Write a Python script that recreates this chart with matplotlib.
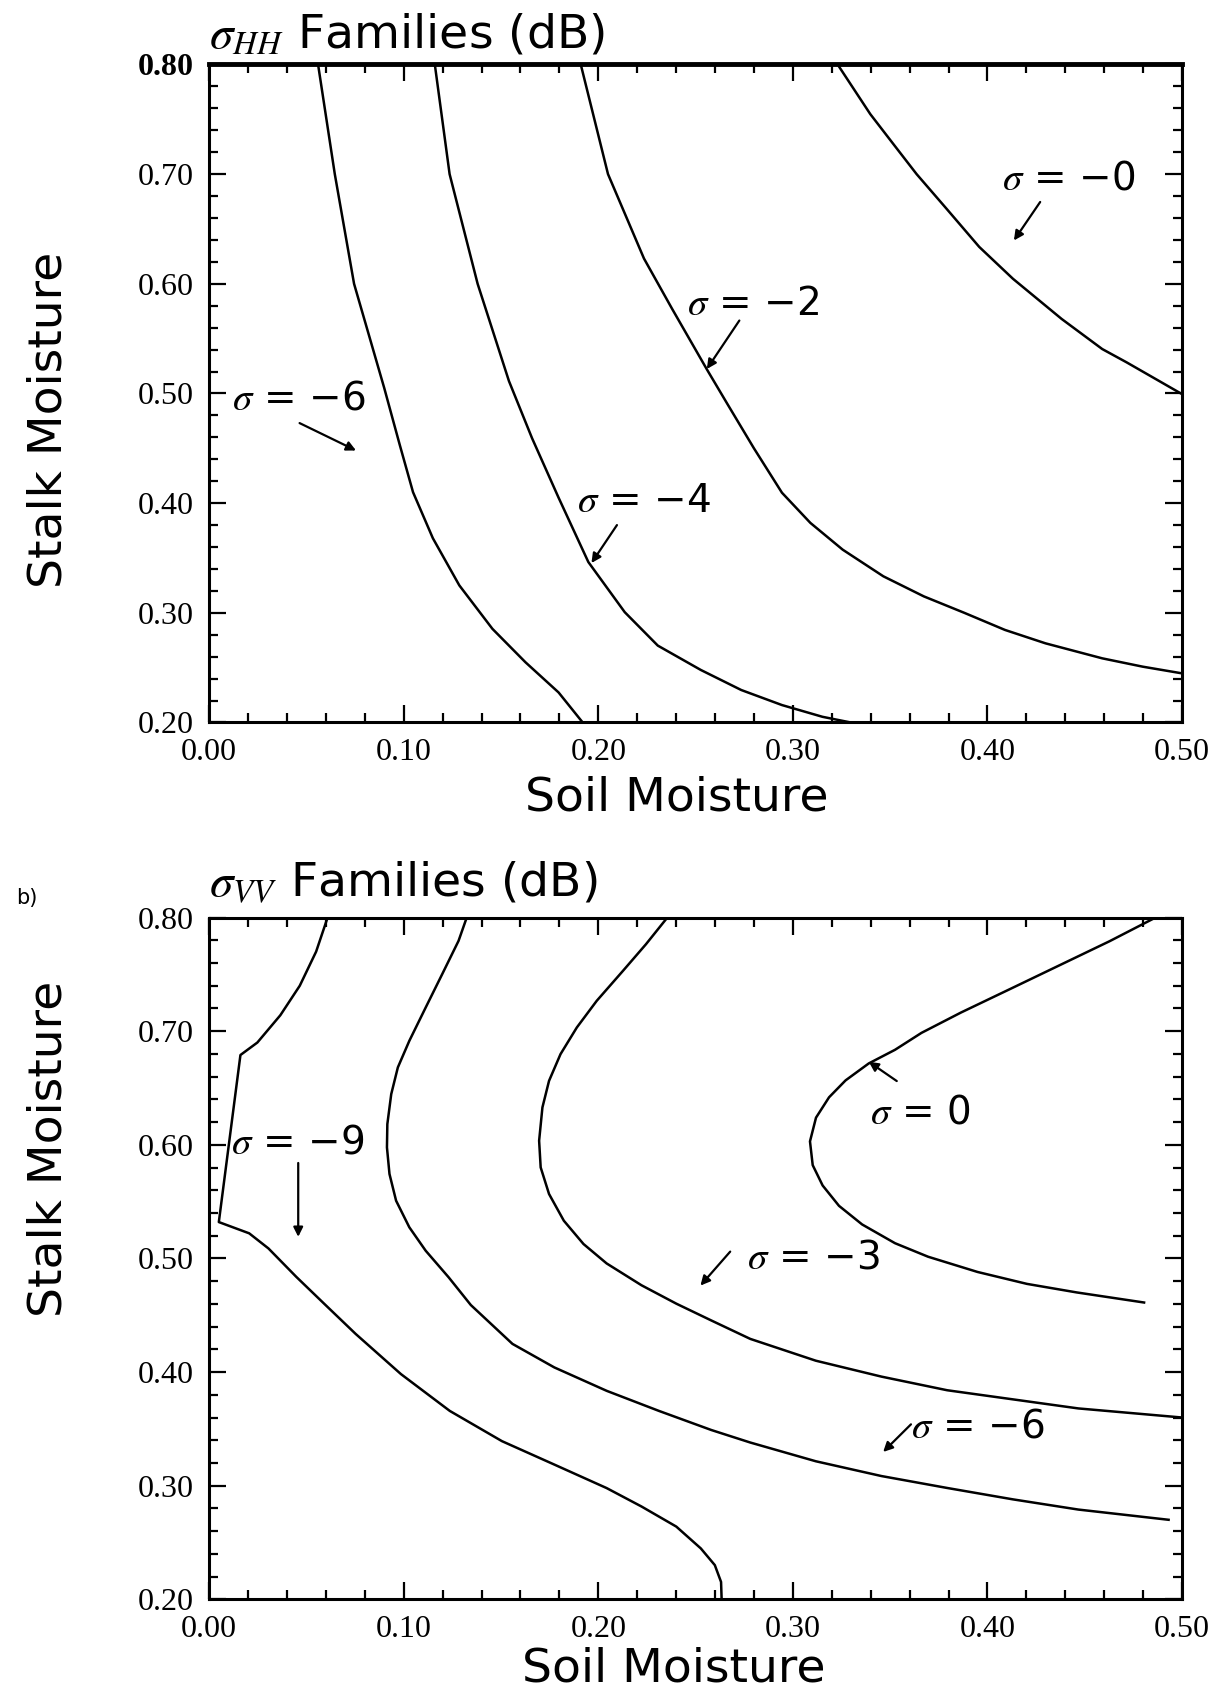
import numpy as np
import matplotlib
matplotlib.use("Agg")
import matplotlib.pyplot as plt
from matplotlib.ticker import MultipleLocator

plt.rcParams['font.family'] = ['DejaVu Sans']
plt.rcParams['mathtext.fontset'] = 'stix'

# ---- sigma_HH families (top panel)
hh_m6_x = [0.056, 0.0646, 0.0745, 0.090, 0.098, 0.1048, 0.115, 0.1286, 0.1456, 0.1626, 0.1796, 0.192]
hh_m6_y = [0.800, 0.700, 0.600, 0.505, 0.453, 0.410, 0.368, 0.325, 0.2854, 0.2549, 0.2274, 0.200]

hh_m4_x = [0.116, 0.1236, 0.138, 0.1541, 0.166, 0.1796, 0.1949, 0.2136, 0.2306, 0.2527, 0.2735, 0.2944, 0.3152, 0.3298]
hh_m4_y = [0.800, 0.700, 0.600, 0.5113, 0.4591, 0.405, 0.3463, 0.3006, 0.2701, 0.2479, 0.2296, 0.2159, 0.2052, 0.200]

hh_m2_x = [0.191, 0.205, 0.2235, 0.238, 0.2558, 0.2665, 0.280, 0.2944, 0.309, 0.3256, 0.3465, 0.3673,
           0.3881, 0.409, 0.4298, 0.459, 0.4798, 0.500]
hh_m2_y = [0.800, 0.700, 0.623, 0.577, 0.522, 0.490, 0.450, 0.4095, 0.382, 0.3576, 0.3333, 0.315,
           0.300, 0.2844, 0.2722, 0.2585, 0.2509, 0.2448]

hh_m0_x = [0.323, 0.3398, 0.3517, 0.3636, 0.3788, 0.3958, 0.4131, 0.4381, 0.459, 0.4715, 0.500]
hh_m0_y = [0.800, 0.7547, 0.7273, 0.700, 0.6688, 0.6336, 0.6046, 0.568, 0.5405, 0.5284, 0.4994]

# ---- sigma_VV families (bottom panel)
vv_m9_x = [0.0609, 0.055, 0.0466, 0.0366, 0.0248, 0.0161, 0.0050, 0.0206, 0.0305, 0.0448, 0.0591, 0.0753,
           0.0986, 0.1237, 0.1505, 0.1774, 0.2043, 0.2222, 0.2401, 0.2527, 0.2599, 0.2631, 0.2634]
vv_m9_y = [0.800, 0.770, 0.740, 0.714, 0.690, 0.679, 0.532, 0.5221, 0.5088, 0.4838, 0.4602, 0.4336,
           0.3982, 0.3658, 0.3392, 0.3186, 0.2979, 0.2817, 0.264, 0.2448, 0.2301, 0.2153, 0.200]

vv_m6_x = [0.1324, 0.1282, 0.1198, 0.1113, 0.1029, 0.097, 0.0936, 0.0916, 0.0914, 0.0927, 0.0961, 0.1029,
           0.1113, 0.1231, 0.1345, 0.1559, 0.1774, 0.2043, 0.2312, 0.2581, 0.2781, 0.3118, 0.3455,
           0.3793, 0.413, 0.4467, 0.4931]
vv_m6_y = [0.800, 0.7795, 0.7502, 0.7208, 0.6915, 0.6681, 0.6446, 0.6182, 0.5977, 0.5743, 0.5508, 0.5274,
           0.5068, 0.4834, 0.459, 0.4248, 0.4041, 0.3835, 0.3658, 0.349, 0.338, 0.3215, 0.3085,
           0.298, 0.288, 0.279, 0.270]

vv_m3_x = [0.2355, 0.2245, 0.2127, 0.1992, 0.189, 0.1806, 0.1747, 0.1713, 0.1696, 0.1704, 0.1747, 0.1823,
           0.1924, 0.2043, 0.2222, 0.2401, 0.2581, 0.2781, 0.3118, 0.3455, 0.3793, 0.413, 0.4467, 0.500]
vv_m3_y = [0.800, 0.7765, 0.7531, 0.7267, 0.7033, 0.6798, 0.6563, 0.6329, 0.6036, 0.5801, 0.5567, 0.5332,
           0.5127, 0.4956, 0.4764, 0.4602, 0.4454, 0.4292, 0.410, 0.396, 0.384, 0.376, 0.368, 0.360]

vv_0_x = [0.4864, 0.4627, 0.4373, 0.4119, 0.3864, 0.3661, 0.3525, 0.339, 0.3271, 0.3186, 0.3119, 0.3088,
          0.3102, 0.3153, 0.3237, 0.3356, 0.3525, 0.3695, 0.3949, 0.4203, 0.4458, 0.4805]
vv_0_y = [0.800, 0.7791, 0.7582, 0.7373, 0.7164, 0.6985, 0.6836, 0.6716, 0.6567, 0.6418, 0.6239, 0.603,
          0.5821, 0.5642, 0.5463, 0.5299, 0.5134, 0.5015, 0.4881, 0.4776, 0.4701, 0.4612]

xticks = [0.0, 0.1, 0.2, 0.3, 0.4, 0.5]
yticks = [0.2, 0.3, 0.4, 0.5, 0.6, 0.7, 0.8]

fig = plt.figure(figsize=(12.3, 16.96), dpi=100)
ax1 = fig.add_axes([0.170, 0.574, 0.791, 0.388])
ax2 = fig.add_axes([0.170, 0.057, 0.791, 0.402])

LW = 1.8
for xs, ys in [(hh_m6_x, hh_m6_y), (hh_m4_x, hh_m4_y), (hh_m2_x, hh_m2_y), (hh_m0_x, hh_m0_y)]:
    ax1.plot(xs, ys, color='black', lw=LW, solid_joinstyle='round')
for xs, ys in [(vv_m9_x, vv_m9_y), (vv_m6_x, vv_m6_y), (vv_m3_x, vv_m3_y), (vv_0_x, vv_0_y)]:
    ax2.plot(xs, ys, color='black', lw=LW, solid_joinstyle='round')

for ax in (ax1, ax2):
    ax.set_xlim(0, 0.5)
    ax.set_ylim(0.2, 0.8)
    ax.set_xticks(xticks)
    ax.set_xticklabels(['%.2f' % v for v in xticks])
    ax.set_yticks(yticks)
    ax.set_yticklabels(['%.2f' % v for v in yticks])
    ax.xaxis.set_minor_locator(MultipleLocator(0.02))
    ax.yaxis.set_minor_locator(MultipleLocator(0.02))
    ax.tick_params(which='both', direction='in', top=True, right=True, width=1.6)
    ax.tick_params(which='major', length=12, labelsize=23, pad=11)
    ax.tick_params(which='minor', length=6.5)
    for lab in ax.get_xticklabels() + ax.get_yticklabels():
        lab.set_fontfamily('Liberation Serif')
    for sp in ax.spines.values():
        sp.set_linewidth(2.2)
    ax.set_xlabel('Soil Moisture', fontsize=34)
    ax.set_ylabel('Stalk Moisture', fontsize=34)

ax1.spines['top'].set_linewidth(3.5)
ax1.get_yticklabels()[-1].set_fontweight('bold')

ax1.xaxis.set_label_coords(0.481, -0.080)
ax2.xaxis.set_label_coords(0.478, -0.069)
ax1.yaxis.set_label_coords(-0.141, 0.46)
ax2.yaxis.set_label_coords(-0.141, 0.66)

ax1.set_title(r'$\sigma_{HH}$ Families (dB)', loc='left', fontsize=34, pad=12)
ax2.set_title(r'$\sigma_{VV}$ Families (dB)', loc='left', fontsize=34, pad=15)
fig.text(0.013, 1 - 898 / 1696, 'b)', fontsize=15, va='center', ha='left')

arrow_kw = dict(arrowstyle='-|>', color='black', lw=1.6, mutation_scale=14,
                shrinkA=0, shrinkB=0)

# label text (left edge, centre), arrow start, arrow tip
hh_notes = [
    ('−6', (0.012, 0.495), (0.0465, 0.473), (0.0755, 0.448)),
    ('−4', (0.189, 0.402), (0.2096, 0.380), (0.1965, 0.3454)),
    ('−2', (0.2454, 0.582), (0.2725, 0.5665), (0.2558, 0.5223)),
    ('−0', (0.4076, 0.696), (0.4271, 0.6746), (0.4136, 0.6395)),
]
vv_notes = [
    ('−9', (0.0114, 0.602), (0.0458, 0.584), (0.0458, 0.519)),
    ('−3', (0.2763, 0.501), (0.2678, 0.506), (0.2525, 0.4761)),
    ('0', (0.3398, 0.628), (0.3534, 0.6561), (0.339, 0.6731)),
    ('−6', (0.3607, 0.352), (0.3607, 0.354), (0.3464, 0.3297)),
]
for ax, notes in ((ax1, hh_notes), (ax2, vv_notes)):
    for val, txy, a0, a1 in notes:
        ax.text(txy[0], txy[1], r'$\sigma$ = ' + val, fontsize=28, ha='left', va='center')
        ax.annotate('', xy=a1, xytext=a0, arrowprops=arrow_kw)

fig.savefig('out.png', dpi=100)
